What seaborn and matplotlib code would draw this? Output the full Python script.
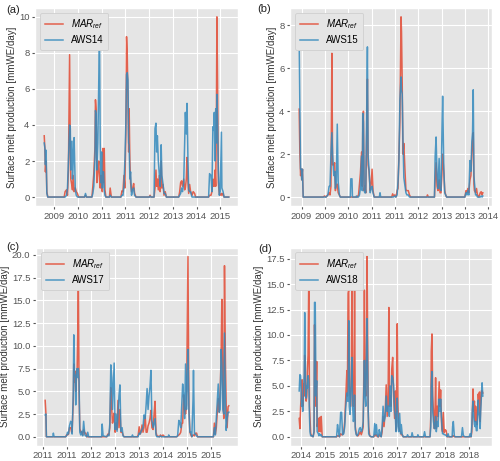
"""
Surface melt production: MAR reference vs AWS stations (4 panels).
"""
import matplotlib
matplotlib.use('Agg')
import matplotlib.pyplot as plt
import seaborn as sns

# x positions are in tick units (tick i -> tick label i)
ticks_a = ['2009', '2010', '2011', '2011', '2012', '2013', '2014', '2015']
ticks_b = ['2009', '2009', '2010', '2011', '2011', '2012', '2013', '2013',
           '2014']
ticks_c = ['2011', '2011', '2012', '2013', '2013', '2014', '2015', '2015']
ticks_d = ['2014', '2015', '2015', '2016', '2017', '2017', '2018', '2018']

# Panel (a): AWS14
t_a = [-0.42, -0.39, -0.37, -0.34, -0.31, -0.27, 0.42, 0.46, 0.52, 0.56,
       0.60, 0.65, 0.68, 0.70, 0.75, 0.77, 0.80, 0.84, 0.89, 0.93,
       0.98, 1.03, 1.28, 1.32, 1.36, 1.59, 1.63, 1.67, 1.72, 1.74,
       1.77, 1.80, 1.84, 1.88, 1.91, 1.94, 1.97, 2.00, 2.03, 2.05,
       2.08, 2.11, 2.14, 2.18, 2.33, 2.36, 2.41, 2.81, 2.86, 2.90,
       2.94, 2.98, 3.02, 3.05, 3.08, 3.11, 3.14, 3.16, 3.19, 3.22,
       3.26, 3.31, 3.35, 3.39, 3.45, 4.01, 4.04, 4.08, 4.21, 4.25,
       4.29, 4.32, 4.35, 4.39, 4.43, 4.47, 4.51, 4.54, 4.59, 4.63,
       4.68, 4.73, 5.25, 5.29, 5.33, 5.37, 5.41, 5.46, 5.50, 5.53,
       5.57, 5.60, 5.64, 5.67, 5.71, 5.75, 5.81, 5.86, 5.92, 5.96,
       6.51, 6.55, 6.61, 6.65, 6.69, 6.72, 6.75, 6.78, 6.81, 6.84,
       6.86, 6.89, 6.92, 6.96, 7.00, 7.05, 7.07, 7.12, 7.16, 7.36]
mar_a = [3.4, 2.6, 1.4, 2.0, 0.3, 0, 0, 0.3, 0.4, 0.1,
         1.5, 7.9, 2.5, 1.0, 0.6, 0.4, 1.2, 0.3, 0.5, 0.3,
         0.2, 0, 0, 0.1, 0, 0, 0.6, 1.3, 2.8, 5.4,
         4.8, 0.8, 1.5, 2.0, 1.0, 0.5, 1.2, 0.6, 0.3, 2.7,
         0.8, 2.7, 0.4, 0, 0, 0.5, 0, 0, 0.35, 0.3,
         1.2, 0.5, 3.5, 8.9, 7.9, 5.5, 2.5, 4.9, 2.0, 0.8,
         0.3, 0.5, 0.75, 0.2, 0, 0, 0.1, 0, 0, 0.5,
         1.5, 0.6, 1.0, 0.4, 1.2, 0.3, 2.0, 0.5, 0.7, 0.1,
         0.3, 0, 0, 0.3, 0.8, 0.9, 0.6, 1.0, 0.4, 0.5,
         1.0, 2.2, 0.8, 0.2, 0.7, 0.3, 0.1, 0.3, 0.2, 0,
         0, 0.1, 0.1, 0.3, 1.0, 0.6, 0.6, 1.5, 0.6, 5.0,
         10.0, 6.0, 0.8, 0.2, 0.1, 0.2, 0.1, 0.2, 0, 0]
aws_a = [3.0, 2.7, 1.8, 2.6, 0.2, 0, 0, 0, 0.1, 0.5,
         2.0, 4.0, 3.8, 1.5, 3.1, 1.0, 2.0, 3.3, 0.4, 0.1,
         0, 0, 0, 0.2, 0, 0, 0.2, 0.6, 2.2, 4.8,
         4.6, 1.5, 3.0, 6.5, 9.2, 3.0, 0.8, 2.5, 0.5, 1.4,
         1.4, 0.4, 0.1, 0, 0, 0.1, 0, 0, 0.1, 0.1,
         0.6, 2.0, 4.0, 6.8, 6.9, 6.5, 3.0, 2.9, 1.0, 1.4,
         0.1, 0.4, 0.5, 0.1, 0, 0, 0.05, 0, 0, 3.8,
         4.1, 2.5, 3.4, 2.0, 1.3, 0.6, 2.9, 1.2, 0.7, 0.2,
         0.2, 0, 0, 0.1, 0.2, 0.5, 0.3, 0.8, 3.0, 4.7,
         3.5, 5.2, 2.0, 0.4, 0.3, 0.3, 0, 0, 0, 0,
         0, 1.3, 1.2, 0.3, 3.9, 3.7, 4.7, 2.0, 4.9, 3.0,
         5.7, 4.0, 1.5, 0.1, 0.3, 3.6, 0.5, 0.3, 0, 0]

# Panel (b): AWS15
t_b = [-0.10, -0.07, -0.04, -0.01, 0.01, 0.04, 0.07, 0.92, 0.99, 1.05,
       1.13, 1.18, 1.22, 1.26, 1.30, 1.33, 1.38, 1.42, 1.45, 1.49,
       1.53, 1.57, 1.62, 1.66, 2.09, 2.11, 2.16, 2.18, 2.33, 2.35,
       2.38, 2.44, 2.48, 2.52, 2.57, 2.60, 2.62, 2.65, 2.68, 2.71,
       2.75, 2.79, 2.82, 2.85, 2.89, 2.94, 2.98, 3.02, 3.06, 3.11,
       3.33, 3.36, 3.39, 3.86, 3.90, 3.94, 3.99, 4.04, 4.09, 4.13,
       4.17, 4.21, 4.26, 4.28, 4.31, 4.34, 4.38, 4.43, 4.47, 4.51,
       4.57, 4.62, 4.67, 5.36, 5.39, 5.43, 5.69, 5.72, 5.76, 5.80,
       5.84, 5.89, 5.93, 5.97, 6.01, 6.04, 6.09, 6.13, 6.17, 6.21,
       6.99, 7.04, 7.08, 7.12, 7.16, 7.21, 7.25, 7.29, 7.32, 7.35,
       7.38, 7.40, 7.45, 7.49, 7.53, 7.59, 7.65, 7.69, 7.73, 7.76]
mar_b = [4.1, 2.0, 1.0, 1.3, 0.8, 1.3, 0, 0, 0.05, 0,
         0.1, 0.2, 0.1, 0.5, 6.7, 1.5, 1.5, 1.6, 0.3, 0.6,
         0.6, 0.2, 0.1, 0, 0, 0, 0, 0, 0, 0,
         0, 0.1, 0.6, 1.1, 2.1, 0.5, 3.0, 4.0, 0.3, 0.5,
         0.2, 3.0, 5.5, 1.5, 1.2, 0.3, 0.6, 1.3, 0.3, 0,
         0, 0, 0, 0, 0.15, 0.05, 0.1, 0, 0.3, 0.4,
         2.0, 3.5, 8.4, 7.7, 5.3, 2.0, 2.5, 1.2, 0.3, 0.3,
         0.3, 0.1, 0, 0, 0.1, 0, 0, 0.8, 1.6, 0.5,
         0.3, 0.8, 0.2, 0.2, 1.0, 2.0, 1.2, 0.3, 0.1, 0,
         0, 0.3, 0.2, 0.4, 0.2, 0.8, 1.0, 2.1, 2.5, 3.0,
         0.6, 0.3, 0.2, 0.4, 0.1, 0, 0.2, 0.25, 0.1, 0.2]
aws_b = [7.3, 4.1, 1.3, 1.3, 0.8, 1.3, 0, 0, 0, 0,
         0.1, 0.5, 0.5, 2.0, 3.0, 2.0, 1.0, 1.2, 0.4, 0.7,
         3.4, 0.7, 0.1, 0, 0, 0.85, 0.85, 0, 0, 0.05,
         0, 0, 0.1, 0.4, 1.9, 0.3, 3.9, 3.5, 0.3, 0.2,
         0.2, 4.0, 7.0, 1.9, 1.3, 0.2, 0.4, 0.5, 0.2, 0,
         0, 0.2, 0, 0, 0, 0, 0.05, 0, 0.1, 0.7,
         1.7, 4.5, 5.6, 5.0, 4.8, 2.8, 0.9, 0.5, 0.2, 0.1,
         0.1, 0, 0, 0, 0, 0, 0, 1.9, 2.8, 1.0,
         0.4, 1.8, 0.4, 0.3, 3.0, 4.7, 1.3, 0.2, 0.1, 0,
         0, 0.2, 0.1, 0.3, 0.1, 1.7, 1.2, 2.6, 3.0, 5.0,
         1.0, 0.7, 0.1, 0.1, 0, 0, 0, 0.05, 0, 0.05]

# Panel (c): AWS17
t_c = [0.11, 0.14, 0.16, 0.43, 0.45, 0.48, 0.96, 1.00, 1.04, 1.08,
       1.12, 1.17, 1.21, 1.23, 1.28, 1.30, 1.33, 1.36, 1.38, 1.41,
       1.44, 1.47, 1.49, 1.52, 1.55, 1.59, 1.63, 1.67, 1.71, 1.76,
       1.80, 1.84, 1.88, 1.92, 2.46, 2.48, 2.52, 2.67, 2.72, 2.76,
       2.80, 2.84, 2.88, 2.91, 2.95, 2.98, 3.02, 3.06, 3.10, 3.14,
       3.18, 3.22, 3.26, 3.31, 3.35, 3.39, 3.72, 3.74, 3.77, 3.94,
       3.98, 4.02, 4.06, 4.10, 4.14, 4.18, 4.22, 4.27, 4.31, 4.35,
       4.39, 4.43, 4.47, 4.51, 4.55, 4.60, 4.64, 4.68, 4.72, 4.76,
       4.87, 4.91, 4.95, 5.01, 5.08, 5.23, 5.25, 5.28, 5.58, 5.62,
       5.67, 5.71, 5.75, 5.80, 5.83, 5.87, 5.91, 5.95, 5.99, 6.02,
       6.05, 6.09, 6.13, 6.17, 6.21, 6.26, 6.28, 6.32, 6.37, 6.41,
       6.45, 7.11, 7.15, 7.19, 7.23, 7.27, 7.31, 7.35, 7.39, 7.43,
       7.46, 7.50, 7.54, 7.57, 7.61, 7.64, 7.68, 7.72, 7.75]
mar_c = [4.0, 2.6, 0, 0, 0, 0, 0, 0.2, 0.2, 0.3,
         1.0, 1.0, 0.5, 0.6, 4.0, 8.0, 6.0, 7.2, 5.0, 6.5,
         7.5, 12.0, 16.9, 5.0, 0.9, 0.5, 0.5, 0.2, 0.8, 0.4,
         0.4, 0, 0, 0, 0, 0, 0, 0, 0.3, 0.2,
         1.0, 5.4, 3.0, 1.5, 2.0, 2.6, 0.5, 1.5, 0.8, 4.0,
         1.0, 3.0, 0.5, 0.5, 0.2, 0, 0, 0, 0, 0,
         0.2, 1.1, 0.3, 0.5, 1.3, 0.5, 1.0, 2.3, 0.5, 0.5,
         1.2, 1.5, 2.0, 2.9, 1.0, 0.8, 2.5, 3.9, 0.5, 0.1,
         0, 0.2, 0, 0.2, 0, 0, 0, 0, 0, 0.1,
         0.2, 0.3, 0.5, 1.5, 1.5, 4.6, 3.0, 2.5, 3.5, 12.0,
         19.8, 3.0, 0.5, 0.2, 0, 0.2, 0.2, 0.1, 0.4, 0.4,
         0, 0, 1.5, 0.3, 1.0, 2.7, 4.2, 2.7, 5.0, 9.0,
         15.1, 5.0, 2.0, 18.8, 8.0, 3.5, 1.0, 3.3, 3.4]
aws_c = [2.4, 2.5, 0, 0, 0.4, 0, 0, 0.1, 0.5, 0.3,
         1.2, 1.7, 1.5, 0.3, 5.0, 11.2, 7.0, 6.5, 3.5, 6.8,
         7.5, 6.5, 7.5, 6.0, 0.5, 0.2, 0.6, 0.1, 1.7, 0.2,
         0.1, 0, 0.5, 0, 0, 1.4, 0.1, 0, 0.2, 0.1,
         1.5, 7.9, 6.5, 3.0, 6.0, 8.1, 0.8, 2.5, 0.6, 2.5,
         4.5, 5.7, 0.6, 1.0, 0.1, 0, 0, 0.2, 0, 0,
         0, 0.4, 0.3, 0.6, 0.8, 1.0, 2.4, 2.0, 3.5, 5.3,
         3.0, 4.5, 5.5, 7.3, 1.8, 1.0, 1.5, 2.0, 0.2, 0,
         0, 0.1, 0, 0, 0, 0, 0.2, 0, 0, 0.1,
         1.8, 1.5, 1.0, 4.0, 5.8, 4.5, 2.0, 8.0, 3.0, 6.0,
         9.6, 3.0, 0.5, 0.5, 0, 4.0, 7.3, 0.3, 0.3, 0.1,
         0, 0, 1.0, 0.2, 2.0, 4.0, 5.8, 2.7, 3.0, 9.6,
         8.0, 3.0, 2.5, 11.4, 3.5, 0.7, 2.0, 2.7, 2.7]

# Panel (d): AWS18
t_d = [-0.07, -0.04, -0.01, 0.03, 0.05, 0.08, 0.11, 0.14, 0.16, 0.19,
       0.22, 0.25, 0.27, 0.30, 0.33, 0.36, 0.38, 0.41, 0.45, 0.51,
       0.55, 0.57, 0.60, 0.63, 0.66, 0.68, 0.73, 0.75, 0.78, 0.82,
       0.85, 0.89, 1.49, 1.53, 1.57, 1.61, 1.66, 1.70, 1.74, 1.79,
       1.83, 1.87, 1.92, 1.94, 1.97, 2.00, 2.02, 2.05, 2.08, 2.11,
       2.13, 2.16, 2.19, 2.22, 2.24, 2.27, 2.31, 2.35, 2.39, 2.44,
       2.48, 2.52, 2.56, 2.60, 2.63, 2.65, 2.68, 2.71, 2.74, 2.76,
       2.81, 2.83, 2.87, 2.93, 3.04, 3.08, 3.11, 3.15, 3.19, 3.24,
       3.27, 3.31, 3.35, 3.39, 3.43, 3.47, 3.52, 3.56, 3.60, 3.64,
       3.67, 3.69, 3.72, 3.76, 3.79, 3.83, 3.87, 3.91, 3.94, 3.97,
       4.00, 4.02, 4.05, 4.08, 4.12, 4.16, 4.19, 4.23, 4.27, 4.42,
       4.45, 4.49, 4.61, 4.64, 4.68, 4.86, 4.88, 4.92, 5.12, 5.16,
       5.20, 5.39, 5.42, 5.44, 5.47, 5.50, 5.53, 5.57, 5.60, 5.62,
       5.65, 5.69, 5.72, 5.75, 5.77, 5.80, 5.83, 5.86, 5.88, 5.91,
       5.94, 5.98, 6.02, 6.06, 6.10, 6.14, 6.18, 6.31, 6.33, 6.36,
       6.40, 6.44, 6.70, 6.74, 6.78, 6.85, 7.02, 7.06, 7.10, 7.13,
       7.15, 7.18, 7.21, 7.24, 7.27, 7.29, 7.32, 7.35, 7.37, 7.40,
       7.42, 7.45, 7.48, 7.50, 7.53, 7.56, 7.59]
mar_d = [1.8, 0.8, 3.0, 4.5, 5.6, 3.0, 5.2, 4.0, 8.0, 4.5,
         3.5, 4.0, 6.4, 8.0, 15.5, 3.0, 2.0, 0.3, 0.1, 0,
         0.5, 11.0, 6.0, 3.0, 7.4, 1.0, 1.8, 0.5, 1.9, 0.5,
         2.0, 0, 0, 0.1, 0.1, 0, 0.3, 0.2, 0.2, 0.5,
         1.5, 3.8, 6.5, 4.0, 14.1, 14.5, 5.0, 4.0, 3.0, 8.0,
         15.5, 5.0, 3.0, 5.0, 14.7, 1.0, 0.3, 0.1, 0.1, 0.3,
         0.5, 0.2, 0.5, 1.0, 7.0, 14.4, 5.0, 4.0, 8.0, 17.7,
         2.5, 1.0, 0.1, 0, 0, 0.2, 0.1, 0.2, 0, 0,
         0.2, 0.1, 0, 0.5, 2.0, 1.0, 2.5, 5.1, 2.0, 4.0,
         12.7, 3.0, 4.0, 3.0, 6.6, 7.8, 4.0, 1.8, 4.5, 0.6,
         5.0, 11.1, 3.0, 1.0, 0.6, 0.5, 0.2, 0.2, 0, 0,
         0, 0, 0, 0, 0, 0, 0, 0, 0, 0,
         0, 0, 2.0, 8.4, 10.1, 4.0, 2.5, 0.8, 3.0, 5.8,
         0.8, 3.0, 2.0, 4.0, 5.4, 3.0, 4.6, 2.0, 0.8, 0.5,
         2.4, 0.4, 0.7, 0.6, 0, 0, 0, 0, 0.1, 0.1,
         0, 0, 0, 0, 0, 0, 0, 0, 0, 0.5,
         2.0, 4.7, 2.5, 3.5, 1.5, 3.0, 1.5, 1.2, 2.5, 4.2,
         3.5, 4.4, 1.5, 3.0, 4.5, 4.5, 4.3]
aws_d = [4.5, 6.1, 6.0, 3.0, 3.5, 2.5, 4.5, 6.0, 12.2, 6.0,
         3.8, 5.0, 4.8, 6.0, 5.5, 2.0, 0.5, 0.1, 0.1, 0,
         0.5, 13.2, 13.2, 4.0, 5.5, 0.5, 0.3, 0.1, 0.3, 0.1,
         0.2, 0, 0, 1.2, 0.5, 0, 2.4, 2.4, 0.2, 0.3,
         1.0, 2.8, 4.3, 3.5, 3.5, 11.4, 3.0, 2.2, 4.0, 6.0,
         7.8, 3.0, 1.5, 2.0, 4.1, 0.7, 0.2, 0.1, 0.3, 0.8,
         0.9, 0.5, 0.7, 1.5, 5.0, 7.5, 4.0, 3.0, 9.0, 11.6,
         2.5, 0.3, 0.1, 0, 0, 1.3, 0.2, 1.2, 0.1, 0,
         0.7, 0.3, 0, 1.0, 3.0, 1.5, 2.0, 4.0, 2.5, 3.0,
         3.0, 2.0, 5.0, 2.5, 6.0, 5.8, 5.0, 2.5, 2.0, 0.5,
         3.0, 3.8, 1.0, 0.5, 2.3, 0.3, 1.2, 0.2, 0, 0,
         0.2, 0, 0, 0.4, 0, 0, 0.2, 0, 0, 0.5,
         0, 0, 1.0, 5.0, 6.4, 2.5, 1.5, 0.8, 1.2, 2.0,
         0.5, 1.5, 1.0, 2.5, 3.7, 2.5, 3.7, 2.0, 1.2, 0.3,
         0.3, 0.2, 0.2, 0.1, 0, 0.3, 0, 0, 1.0, 1.5,
         0.1, 0, 0, 0.9, 0.1, 0, 0, 0.3, 0, 1.0,
         2.5, 3.5, 2.0, 1.2, 1.0, 1.5, 0.6, 0.6, 2.0, 3.6,
         2.5, 2.0, 0.8, 2.5, 4.0, 5.3, 4.0]

MAR_COLOR = '#E24A33'
AWS_COLOR = '#348ABD'


def draw_panel(ax, t, mar, aws, station, ticklabels, yticks, yfmt):
    """Draw one MAR vs AWS melt panel."""
    sns.lineplot(x=t, y=mar, ax=ax, color=MAR_COLOR, lw=1.1, alpha=0.85,
                 sort=False, estimator=None, label='$MAR_{ref}$')
    sns.lineplot(x=t, y=aws, ax=ax, color=AWS_COLOR, lw=1.1, alpha=0.85,
                 sort=False, estimator=None, label=station)
    ax.set_xticks(range(len(ticklabels)))
    ax.set_xticklabels(ticklabels)
    ax.set_yticks(yticks)
    ax.set_yticklabels([yfmt.format(v) for v in yticks])
    ax.tick_params(labelsize=6.8, colors='#555555', length=2.5, pad=1.5)
    ax.set_ylabel('Surface melt production [mmWE/day]', fontsize=7,
                  color='#333333', labelpad=1.5)
    ax.set_xlabel('')
    leg = ax.legend(loc='upper left', fontsize=7, handlelength=1.9,
                    frameon=True, facecolor='#E5E5E5', edgecolor='#CFCFCF',
                    framealpha=1.0, borderpad=0.5, labelspacing=0.4)
    leg.get_frame().set_linewidth(0.6)


plt.style.use('ggplot')
plt.rcParams['font.family'] = ['Liberation Sans', 'DejaVu Sans']
plt.rcParams['mathtext.fontset'] = 'custom'
plt.rcParams['mathtext.it'] = 'Liberation Sans:italic'
plt.rcParams['mathtext.rm'] = 'Liberation Sans'

fig = plt.figure(figsize=(5.0, 4.61), dpi=100)
ax_a = fig.add_axes([0.070, 0.553, 0.406, 0.430])
ax_b = fig.add_axes([0.580, 0.553, 0.404, 0.430])
ax_c = fig.add_axes([0.072, 0.033, 0.404, 0.430])
ax_d = fig.add_axes([0.580, 0.033, 0.404, 0.430])

draw_panel(ax_a, t_a, mar_a, aws_a, 'AWS14', ticks_a,
           [0, 2, 4, 6, 8, 10], '{:.0f}')
draw_panel(ax_b, t_b, mar_b, aws_b, 'AWS15', ticks_b,
           [0, 2, 4, 6, 8], '{:.0f}')
draw_panel(ax_c, t_c, mar_c, aws_c, 'AWS17', ticks_c,
           [0, 2.5, 5, 7.5, 10, 12.5, 15, 17.5, 20], '{:.1f}')
draw_panel(ax_d, t_d, mar_d, aws_d, 'AWS18', ticks_d,
           [0, 2.5, 5, 7.5, 10, 12.5, 15, 17.5], '{:.1f}')

# Panel letters
fig.text(0.012, 0.990, '(a)', fontsize=8, va='top', color='#222222')
fig.text(0.514, 0.992, '(b)', fontsize=8, va='top', color='#222222')
fig.text(0.012, 0.476, '(c)', fontsize=8, va='top', color='#222222')
fig.text(0.516, 0.470, '(d)', fontsize=8, va='top', color='#222222')

fig.savefig('out.png', dpi=100)
